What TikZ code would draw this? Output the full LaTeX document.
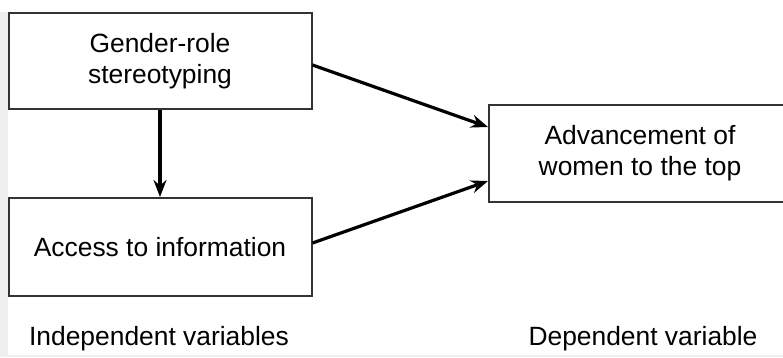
\documentclass[tikz,border=0pt]{standalone}
\usepackage{fontspec}
\setmainfont{Liberation Sans}
\usetikzlibrary{arrows.meta}
\definecolor{edge}{HTML}{333333}
\definecolor{strip}{HTML}{EFEFEF}
\begin{document}
\begin{tikzpicture}[x=1pt,y=-1pt,
  varbox/.style={draw=edge,line width=2pt,fill=white,inner sep=0pt,
    align=center,font=\fontsize{26.4}{31}\selectfont},
  link/.style={line width=3.2pt,-{Stealth[length=17pt,width=13pt]}},
  caption/.style={font=\fontsize{26.4}{31}\selectfont,inner sep=0pt}]
  \useasboundingbox (0,0) rectangle (783,357);
  \begin{scope}
    \clip (0,0) rectangle (783,357);
    % page background with light grey edge strips
    \fill[white] (0,0) rectangle (783,357);
    \fill[strip] (0,12) rectangle (8,357);
    \fill[strip] (0,355) rectangle (783,357);
    % variables
    \node[varbox,minimum width=303pt,minimum height=96pt] (gender) at (160,61)
      {Gender-role\\stereotyping};
    \node[varbox,minimum width=303pt,minimum height=98pt] (access) at (160,247)
      {Access to information};
    \node[varbox,minimum width=302pt,minimum height=97pt] (advance) at (640,153.5)
      {Advancement of\\women to the top};
    % relations
    \draw[link] (gender.south) -- (access.north);
    \draw[link] (gender.east |- 0,65) -- (advance.west |- 0,127);
    \draw[link] (access.east |- 0,243) -- (advance.west |- 0,181);
    % column captions
    \node[caption] (indep) at (159,339) {Independent variables};
    \node[caption] (dep) at (643,339) {Dependent variable};
  \end{scope}
\end{tikzpicture}
\end{document}
